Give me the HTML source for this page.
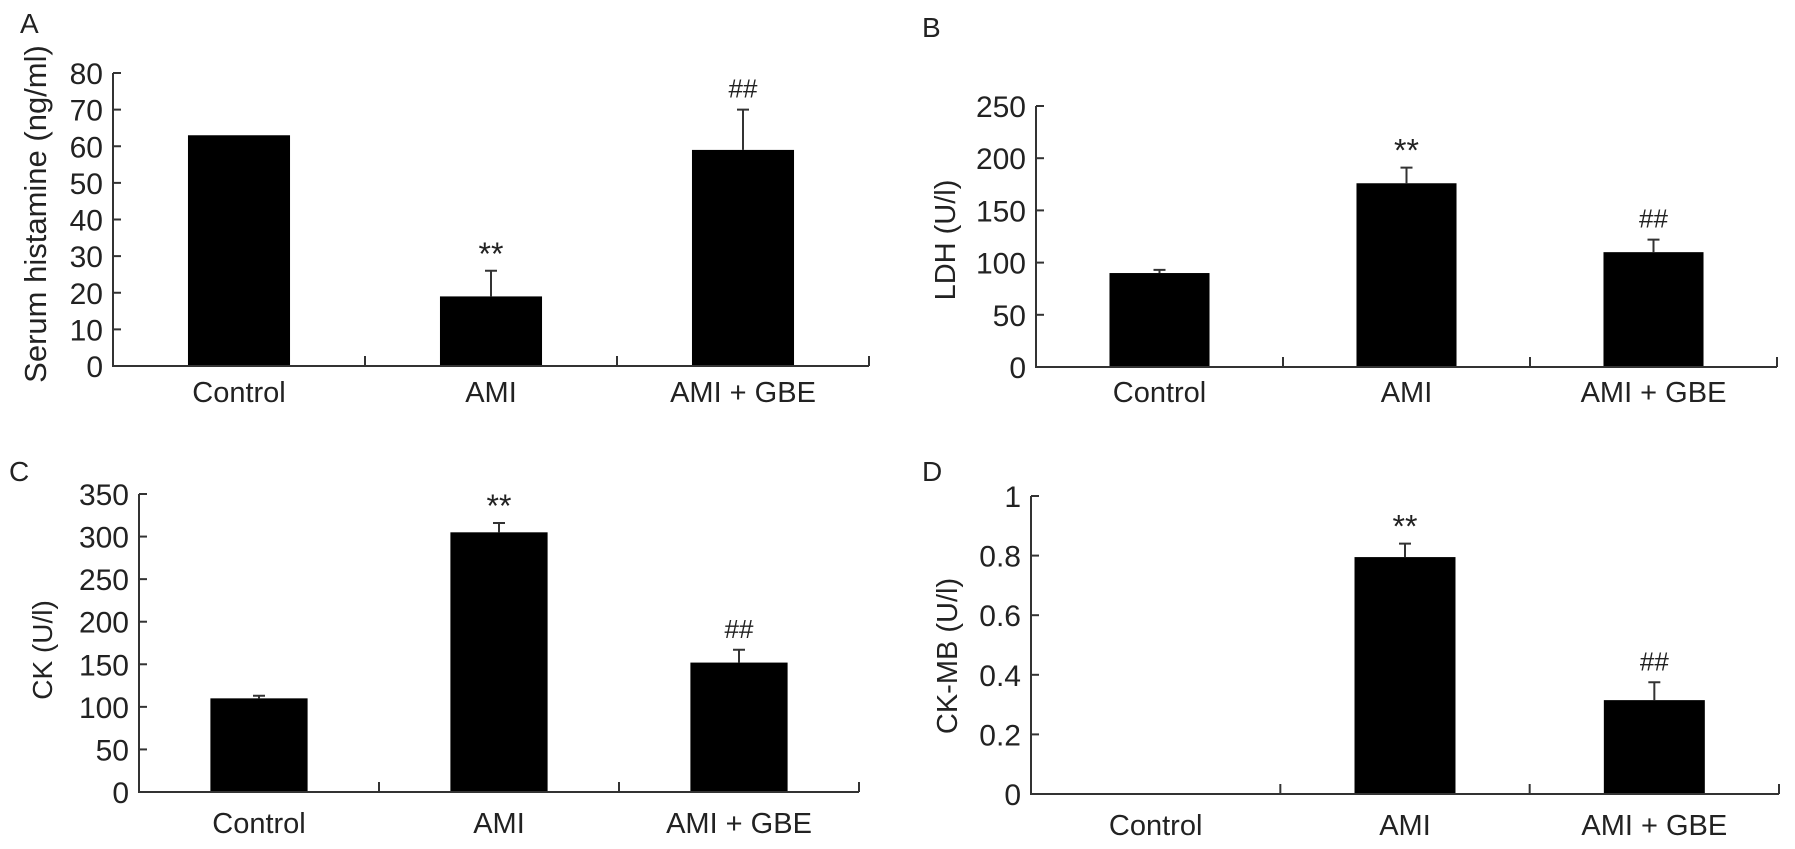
<!DOCTYPE html>
<html><head><meta charset="utf-8"><style>
html,body{margin:0;padding:0;background:#fff;}
svg{display:block;}
text{font-family:"Liberation Sans",Arial,sans-serif;fill:#222;}
</style></head><body>
<svg id="fig" width="1795" height="849" viewBox="0 0 1795 849" xmlns="http://www.w3.org/2000/svg"></svg>
<script>
const categories = ["Control", "AMI", "AMI + GBE"];
const valuesA = [63, 19, 59];
const errorsA = [0, 26, 70];
const marksA = ["", "**", "##"];
const ticksA = [0, 10, 20, 30, 40, 50, 60, 70, 80];
const valuesB = [90, 176, 110];
const errorsB = [93, 191, 122];
const marksB = ["", "**", "##"];
const ticksB = [0, 50, 100, 150, 200, 250];
const valuesC = [110, 305, 152];
const errorsC = [113, 316, 167];
const marksC = ["", "**", "##"];
const ticksC = [0, 50, 100, 150, 200, 250, 300, 350];
const valuesD = [0, 0.795, 0.315];
const errorsD = [0, 0.84, 0.375];
const marksD = ["", "**", "##"];
const ticksD = [0, 0.2, 0.4, 0.6, 0.8, 1];

const NS = "http://www.w3.org/2000/svg";
const svg = document.getElementById("fig");
function mk(tag, attrs, parent, txt) {
  const e = document.createElementNS(NS, tag);
  for (const k in attrs) e.setAttribute(k, attrs[k]);
  if (txt !== undefined) e.textContent = txt;
  (parent || svg).appendChild(e);
  return e;
}

function panel(cfg) {
  const g = mk("g", {});
  
  
  const x0 = cfg.x0, x1 = cfg.x1, yTop = cfg.yTop, yBot = cfg.yBot;
  const maxV = cfg.ticks[cfg.ticks.length - 1];
  const yScale = v => yBot - (v / maxV) * (yBot - yTop);
  const cw = (x1 - x0) / categories.length;
  const xCenter = i => x0 + cw * (i + 0.5);
  const bw = cw * 0.405;

  const letter = mk("text", {x: cfg.lx, y: cfg.ly, "font-size": 28}, g, cfg.letter);
  
  

  const yl = mk("text", {x: 0, y: 0, "font-size": cfg.yfs, "text-anchor": "middle",
    transform: "translate(" + cfg.ylx + "," + cfg.yly + ") rotate(-90)"}, g, cfg.ylabel);
  
  

  for (let i = 0; i < categories.length; i++) {
    const v = cfg.values[i];
    const yv = yScale(v);
    if (v > 0) {
      const r = mk("rect", {x: xCenter(i) - bw / 2, y: yv, width: bw, height: yBot - yv, fill: "#000"}, g);
      
      
    }
    const ev = cfg.errors[i];
    if (ev > v) {
      const ye = yScale(ev);
      const eb = mk("path", {d: "M" + xCenter(i) + "," + yv + "V" + ye + "M" + (xCenter(i) - 6) + "," + ye + "H" + (xCenter(i) + 6),
        stroke: "#333", "stroke-width": 2, fill: "none"}, g);
      
      
      const m = cfg.marks[i];
      if (m) {
        const off = m === "**" ? 6 : 12;
        const t = mk("text", {x: xCenter(i), y: ye - off, "font-size": m === "**" ? 32 : 26, "text-anchor": "middle"}, g, m);
        
        
      }
    }
    const xl = mk("text", {x: xCenter(i), y: cfg.xly, "font-size": 29, "text-anchor": "middle"}, g, categories[i]);
    
    
  }

  const ax = mk("path", {d: "M" + x0 + "," + yTop + "V" + yBot + "H" + x1, stroke: "#333", "stroke-width": 2, fill: "none"}, g);
  
  
  for (let i = 1; i <= categories.length; i++) {
    const xt = x0 + cw * i;
    const tk = mk("line", {x1: xt, x2: xt, y1: yBot, y2: yBot - 10, stroke: "#333", "stroke-width": 2}, g);
    
    
  }
  cfg.ticks.forEach(t => {
    const yt = yScale(t);
    const tk = mk("line", {x1: x0, x2: x0 + 8, y1: yt, y2: yt, stroke: "#333", "stroke-width": 2}, g);
    
    
    const tl = mk("text", {x: x0 - 10, y: yt + 11, "font-size": 30, "text-anchor": "end"}, g, String(t));
    
    
  });
}

panel({letter: "A", lx: 20, ly: 33, x0: 113, x1: 869, yTop: 73, yBot: 366, ticks: ticksA,
  values: valuesA, errors: errorsA, marks: marksA, ylabel: "Serum histamine (ng/ml)", yfs: 31, ylx: 46, yly: 214, xly: 402});
panel({letter: "B", lx: 922, ly: 37, x0: 1036, x1: 1777, yTop: 106, yBot: 367, ticks: ticksB,
  values: valuesB, errors: errorsB, marks: marksB, ylabel: "LDH (U/l)", yfs: 29, ylx: 955, yly: 240, xly: 402});
panel({letter: "C", lx: 9, ly: 481, x0: 139, x1: 859, yTop: 494, yBot: 792, ticks: ticksC,
  values: valuesC, errors: errorsC, marks: marksC, ylabel: "CK (U/l)", yfs: 28, ylx: 52, yly: 650, xly: 833});
panel({letter: "D", lx: 922, ly: 481, x0: 1031, x1: 1779, yTop: 496, yBot: 794, ticks: ticksD,
  values: valuesD, errors: errorsD, marks: marksD, ylabel: "CK-MB (U/l)", yfs: 29, ylx: 957, yly: 656, xly: 835});
</script>
</body></html>
